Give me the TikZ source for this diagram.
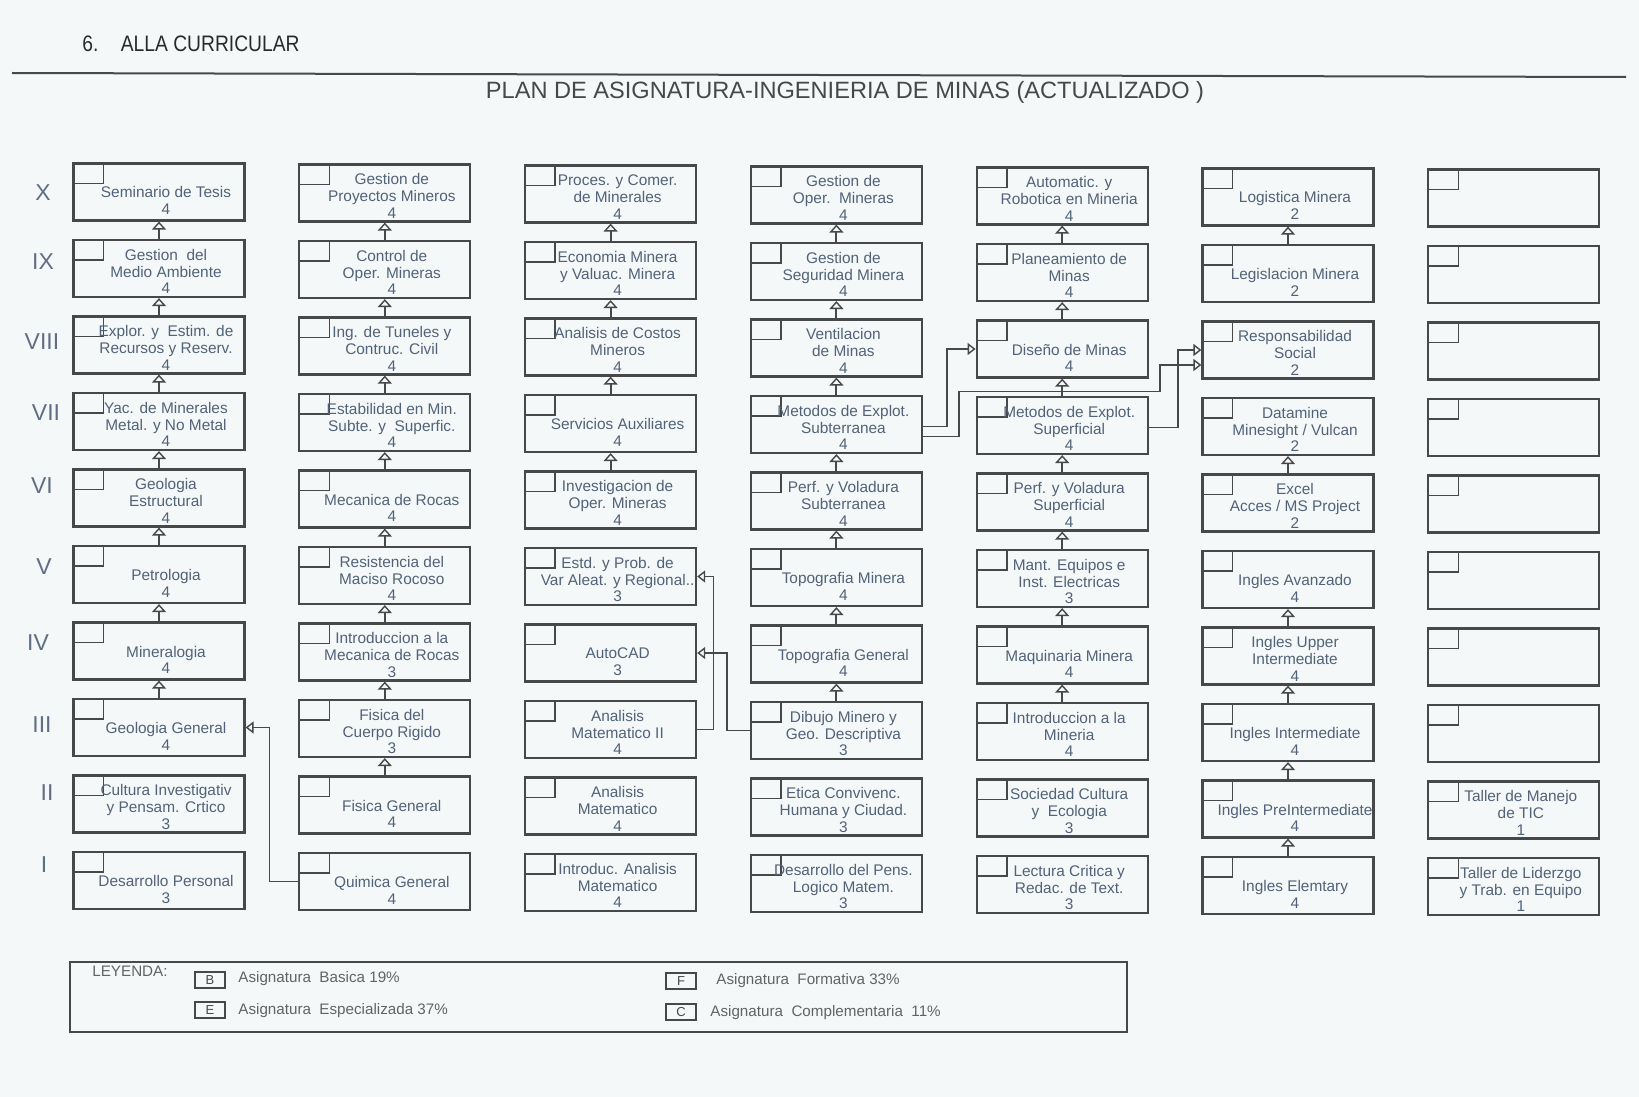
\documentclass[tikz,border=0pt]{standalone}
\usepackage{fontspec}
\setmainfont{Liberation Sans}
\usetikzlibrary{arrows.meta}

\definecolor{papier}{RGB}{244,248,248}
\definecolor{rahmen}{RGB}{70,72,74}
\definecolor{schrift}{RGB}{82,98,120}
\definecolor{roemisch}{RGB}{96,110,132}
\definecolor{kopftext}{RGB}{40,42,44}

% Kasten mit Ecke und Text
\newcommand{\fach}[4]{%
  \node[fach] (#1) at ({159+225.8*(#2-1)},{192+76.5*(10-#3)+(#2-1)}) {};
  \node[fachtext] (#1-t) at ([shift={(7,3)}]#1.center) {#4};}
% leere erste Zeile
\newcommand{\leer}{\rule{0pt}{3pt}}

\begin{document}
\begin{tikzpicture}[x=0.5pt,y=-0.5pt,
  fach/.style={draw=rahmen, line width=1.1pt, minimum width=85.5pt, minimum height=28.5pt,
    inner sep=0pt, path picture={\draw[rahmen,line width=0.8pt]
      (path picture bounding box.north west) rectangle ++(15pt,-10pt);}},
  fachtext/.style={align=center, inner sep=0pt, text=schrift, font=\fontsize{7.7}{8.4}\selectfont},
  roemisch/.style={text=roemisch, font=\fontsize{11.5}{13}\selectfont},
  pfeil/.style={draw=rahmen, line width=1pt, -{Triangle[open,width=7pt,length=4pt,line width=0.7pt]}},
  verb/.style={draw=rahmen, line width=0.7pt, -{Triangle[open,width=6pt,length=4pt,line width=0.7pt]}},
  legkasten/.style={draw=rahmen, line width=0.8pt, minimum width=15pt, minimum height=8pt,
    inner sep=0pt, text=rahmen, font=\fontsize{6.5}{7}\selectfont},
  legtext/.style={anchor=west, inner sep=0pt, text=rahmen!85, font=\fontsize{7.6}{9}\selectfont}]

  \fill[papier] (0,0) rectangle (1639,1097);
  \useasboundingbox (0,0) rectangle (1639,1097);

  % Kopf
  \node[anchor=west, inner sep=0pt, text=kopftext, font=\fontsize{11.2}{13}\selectfont] (kopf) at (82,44)
    {\scalebox{0.86}[1]{6.\hspace{13pt}ALLA CURRICULAR}};
  \draw[rahmen, line width=1pt] (12,73) -- (1626,77);
  \node[text=rahmen, font=\fontsize{11.8}{14}\selectfont] (titel) at (845,92)
    {PLAN DE ASIGNATURA-INGENIERIA DE MINAS (ACTUALIZADO )};

  % Semester
  \foreach \r/\x/\y [count=\n] in {X/43/193, IX/43/262, VIII/42/342, VII/46/413, VI/42/486,
      V/44/567, IV/38/643, III/42/725, II/47/793, I/44/865}
    \node[roemisch] (sem\n) at (\x,\y) {\r};

  % Spalte 1
  \fach{a10}{1}{10}{\leer\\Seminario de Tesis\\4}
  \fach{a9}{1}{9}{Gestion\ \ del\\Medio Ambiente\\4}
  \fach{a8}{1}{8}{Explor. y\ \ Estim. de\\Recursos y Reserv.\\4}
  \fach{a7}{1}{7}{Yac. de Minerales\\Metal. y No Metal\\4}
  \fach{a6}{1}{6}{Geologia\\Estructural\\4}
  \fach{a5}{1}{5}{\leer\\Petrologia\\4}
  \fach{a4}{1}{4}{\leer\\Mineralogia\\4}
  \fach{a3}{1}{3}{\leer\\Geologia General\\4}
  \fach{a2}{1}{2}{Cultura Investigativ\\y Pensam. Crtico\\3}
  \fach{a1}{1}{1}{\leer\\Desarrollo Personal\\3}

  % Spalte 2
  \fach{b10}{2}{10}{Gestion de\\Proyectos Mineros\\4}
  \fach{b9}{2}{9}{Control de\\Oper. Mineras\\4}
  \fach{b8}{2}{8}{Ing. de Tuneles y\\Contruc. Civil\\4}
  \fach{b7}{2}{7}{Estabilidad en Min.\\Subte. y\ \ Superfic.\\4}
  \fach{b6}{2}{6}{\leer\\Mecanica de Rocas\\4}
  \fach{b5}{2}{5}{Resistencia del\\Maciso Rocoso\\4}
  \fach{b4}{2}{4}{Introduccion a la\\Mecanica de Rocas\\3}
  \fach{b3}{2}{3}{Fisica del\\Cuerpo Rigido\\3}
  \fach{b2}{2}{2}{\leer\\Fisica General\\4}
  \fach{b1}{2}{1}{\leer\\Quimica General\\4}

  % Spalte 3
  \fach{c10}{3}{10}{Proces. y Comer.\\de Minerales\\4}
  \fach{c9}{3}{9}{Economia Minera\\y Valuac. Minera\\4}
  \fach{c8}{3}{8}{Analisis de Costos\\Mineros\\4}
  \fach{c7}{3}{7}{\leer\\Servicios Auxiliares\\4}
  \fach{c6}{3}{6}{Investigacion de\\Oper. Mineras\\4}
  \fach{c5}{3}{5}{Estd. y Prob. de\\Var Aleat. y Regional..\\3}
  \fach{c4}{3}{4}{\leer\\AutoCAD\\3}
  \fach{c3}{3}{3}{Analisis\\Matematico II\\4}
  \fach{c2}{3}{2}{Analisis\\Matematico\\4}
  \fach{c1}{3}{1}{Introduc. Analisis\\Matematico\\4}

  % Spalte 4
  \fach{d10}{4}{10}{Gestion de\\Oper.\ \ Mineras\\4}
  \fach{d9}{4}{9}{Gestion de\\Seguridad Minera\\4}
  \fach{d8}{4}{8}{Ventilacion\\de Minas\\4}
  \fach{d7}{4}{7}{Metodos de Explot.\\Subterranea\\4}
  \fach{d6}{4}{6}{Perf. y Voladura\\Subterranea\\4}
  \fach{d5}{4}{5}{\leer\\Topografia Minera\\4}
  \fach{d4}{4}{4}{\leer\\Topografia General\\4}
  \fach{d3}{4}{3}{Dibujo Minero y\\Geo. Descriptiva\\3}
  \fach{d2}{4}{2}{Etica Convivenc.\\Humana y Ciudad.\\3}
  \fach{d1}{4}{1}{Desarrollo del Pens.\\Logico Matem.\\3}

  % Spalte 5
  \fach{e10}{5}{10}{Automatic. y\\Robotica en Mineria\\4}
  \fach{e9}{5}{9}{Planeamiento de\\Minas\\4}
  \fach{e8}{5}{8}{\leer\\Diseño de Minas\\4}
  \fach{e7}{5}{7}{Metodos de Explot.\\Superficial\\4}
  \fach{e6}{5}{6}{Perf. y Voladura\\Superficial\\4}
  \fach{e5}{5}{5}{Mant. Equipos e\\Inst. Electricas\\3}
  \fach{e4}{5}{4}{\leer\\Maquinaria Minera\\4}
  \fach{e3}{5}{3}{Introduccion a la\\Mineria\\4}
  \fach{e2}{5}{2}{Sociedad Cultura\\y\ \ Ecologia\\3}
  \fach{e1}{5}{1}{Lectura Critica y\\Redac. de Text.\\3}

  % Spalte 6
  \fach{f10}{6}{10}{\leer\\Logistica Minera\\2}
  \fach{f9}{6}{9}{\leer\\Legislacion Minera\\2}
  \fach{f8}{6}{8}{Responsabilidad\\Social\\2}
  \fach{f7}{6}{7}{Datamine\\Minesight / Vulcan\\2}
  \fach{f6}{6}{6}{Excel\\Acces / MS Project\\2}
  \fach{f5}{6}{5}{\leer\\Ingles Avanzado\\4}
  \fach{f4}{6}{4}{Ingles Upper\\Intermediate\\4}
  \fach{f3}{6}{3}{\leer\\Ingles Intermediate\\4}
  \fach{f2}{6}{2}{\leer\\Ingles PreIntermediate\\4}
  \fach{f1}{6}{1}{\leer\\Ingles Elemtary\\4}

  % Spalte 7
  \foreach \s in {3,...,10}
    \fach{g\s}{7}{\s}{};
  \fach{g2}{7}{2}{Taller de Manejo\\de TIC\\1}
  \fach{g1}{7}{1}{Taller de Liderzgo\\y Trab. en Equipo\\1}

  % Vorbedingungen
  \foreach \c/\lo/\hi in {a/4/10, b/3/10, c/7/10, d/4/10, e/4/10, f/2/5, f/7/7, f/10/10}
    \foreach \s in {\lo,...,\hi} {
      \pgfmathtruncatemacro{\u}{\s-1}
      \draw[pfeil] (\c\u) -- (\c\s);
    }

  \draw[verb] (b1.west) -- ++(-29,0) |- (a3.east);
  \draw[verb] (c3.east) -- ++(16,0) |- (c5.east);
  \draw[verb] (d3.west) -- ++(-23,0) |- (c4.east);
  \draw[verb] ([yshift=-1pt]d7.east) -- ++(24,0) |- (e8.west);
  \draw[verb] ([yshift=-6pt]d7.east) -- ++(36,0) -- ++(0,-45) -- ++(201,0) |- ([yshift=-7.5pt]f8.west);
  \draw[verb] ([yshift=-1pt]e7.east) -- ++(29,0) |- (f8.west);

  % Leyenda
  \draw[rahmen, line width=0.8pt] (70,962) rectangle (1127,1032);
  \node[legtext] (ley) at (92,971) {LEYENDA:};
  \node[legkasten] (legB) at (210,980) {B};
  \node[legtext] (legBt) at (238,979) {Asignatura\ \ Basica 19\%};
  \node[legkasten] (legE) at (210,1010) {E};
  \node[legtext] (legEt) at (238,1011) {Asignatura\ \ Especializada 37\%};
  \node[legkasten] (legF) at (681,981) {F};
  \node[legtext] (legFt) at (716,981) {Asignatura\ \ Formativa 33\%};
  \node[legkasten] (legC) at (681,1012) {C};
  \node[legtext] (legCt) at (710,1013) {Asignatura\ \ Complementaria\ \ 11\%};
\end{tikzpicture}
\end{document}
